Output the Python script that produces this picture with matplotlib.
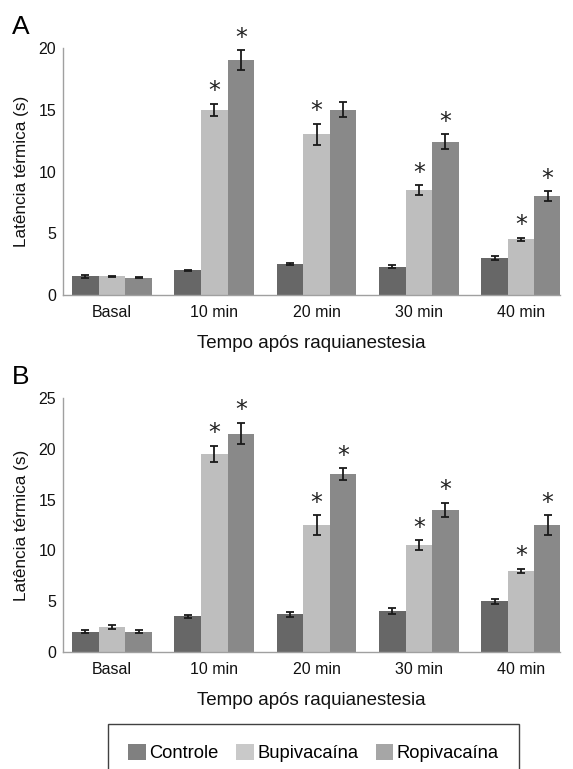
import matplotlib
matplotlib.use("Agg")
import matplotlib.pyplot as plt
from matplotlib.patches import Patch
import numpy as np

plt.rcParams['font.family'] = ['Liberation Sans', 'DejaVu Sans']

categories = ["Basal", "10 min", "20 min", "30 min", "40 min"]
series_names = ["Controle", "Bupivacaína", "Ropivacaína"]

# Panel A
a_controle = [1.5, 2.0, 2.5, 2.3, 3.0]
a_bupi = [1.5, 15.0, 13.0, 8.5, 4.5]
a_ropi = [1.4, 19.0, 15.0, 12.4, 8.0]
a_controle_err = [0.1, 0.05, 0.1, 0.15, 0.15]
a_bupi_err = [0.05, 0.5, 0.85, 0.4, 0.15]
a_ropi_err = [0.05, 0.8, 0.6, 0.6, 0.4]
a_bupi_star = [False, True, True, True, True]
a_ropi_star = [False, True, False, True, True]

# Panel B
b_controle = [2.0, 3.5, 3.7, 4.0, 5.0]
b_bupi = [2.45, 19.5, 12.5, 10.5, 8.0]
b_ropi = [2.0, 21.5, 17.5, 14.0, 12.5]
b_controle_err = [0.15, 0.15, 0.25, 0.3, 0.25]
b_bupi_err = [0.2, 0.8, 0.95, 0.5, 0.2]
b_ropi_err = [0.15, 1.05, 0.6, 0.7, 0.95]
b_bupi_star = [False, True, True, True, True]
b_ropi_star = [False, True, True, True, True]

bar_colors = ["#676767", "#bebebe", "#898989"]
legend_colors = ["#808080", "#c9c9c9", "#a6a6a6"]

fig = plt.figure(figsize=(5.73, 7.69), dpi=100)
W, H = 573, 769

def make_ax(top_px, bottom_px):
    left = 63 / W
    right = 560 / W
    return fig.add_axes([left, 1 - bottom_px / H, right - left, (bottom_px - top_px) / H])

axA = make_ax(48, 295)
axB = make_ax(398, 652)

def draw(ax, vals, errs, stars, ymax, yticks):
    x = np.arange(len(categories))
    w = 0.26
    offsets = [-w, 0, w]
    for i in range(3):
        ax.bar(x + offsets[i], vals[i], width=w, color=bar_colors[i],
               yerr=errs[i], error_kw=dict(ecolor="#1a1a1a", elinewidth=1.3,
                                           capsize=3, capthick=1.3), zorder=2)
    for i, st in ((1, stars[0]), (2, stars[1])):
        for j in range(len(categories)):
            if st[j]:
                ax.annotate("*", (x[j] + offsets[i], vals[i][j] + errs[i][j]),
                            xytext=(0, 9), textcoords="offset points",
                            ha="center", va="center", fontsize=17,
                            family="DejaVu Sans", color="#222222",
                            annotation_clip=False)
    ax.set_xlim(-0.48, 4.38)
    ax.set_ylim(0, ymax)
    ax.set_yticks(yticks)
    ax.set_xticks(x)
    ax.set_xticklabels(categories)
    ax.tick_params(length=0, labelsize=11.5, colors="#111111")
    ax.tick_params(axis="x", pad=7)
    ax.tick_params(axis="y", pad=5)
    for s in ("top", "right"):
        ax.spines[s].set_visible(False)
    for s in ("left", "bottom"):
        ax.spines[s].set_color("#a0a0a0")
        ax.spines[s].set_linewidth(1.0)
    ax.set_ylabel("Latência térmica (s)", fontsize=12.3, labelpad=7, color="#111111")
    ax.set_xlabel("Tempo após raquianestesia", fontsize=13.5, labelpad=11, color="#111111")

draw(axA, [a_controle, a_bupi, a_ropi], [a_controle_err, a_bupi_err, a_ropi_err],
     [a_bupi_star, a_ropi_star], 20, [0, 5, 10, 15, 20])
draw(axB, [b_controle, b_bupi, b_ropi], [b_controle_err, b_bupi_err, b_ropi_err],
     [b_bupi_star, b_ropi_star], 25, [0, 5, 10, 15, 20, 25])

fig.text(12 / W, 1 - 27 / H, "A", fontsize=19, va="center", ha="left")
fig.text(12 / W, 1 - 377 / H, "B", fontsize=19, va="center", ha="left")

handles = [Patch(facecolor=c, edgecolor="none") for c in legend_colors]
leg = fig.legend(handles, series_names, loc="upper center",
                 bbox_to_anchor=(313.5 / W, 1 - 724 / H), ncol=3,
                 fontsize=13.2, frameon=True, fancybox=False,
                 borderpad=1.1, handlelength=0.95, handleheight=0.95,
                 handletextpad=0.2, columnspacing=0.95, borderaxespad=0)
leg.get_frame().set_edgecolor("#111111")
leg.get_frame().set_linewidth(1.0)

fig.savefig("out.png", dpi=100)
